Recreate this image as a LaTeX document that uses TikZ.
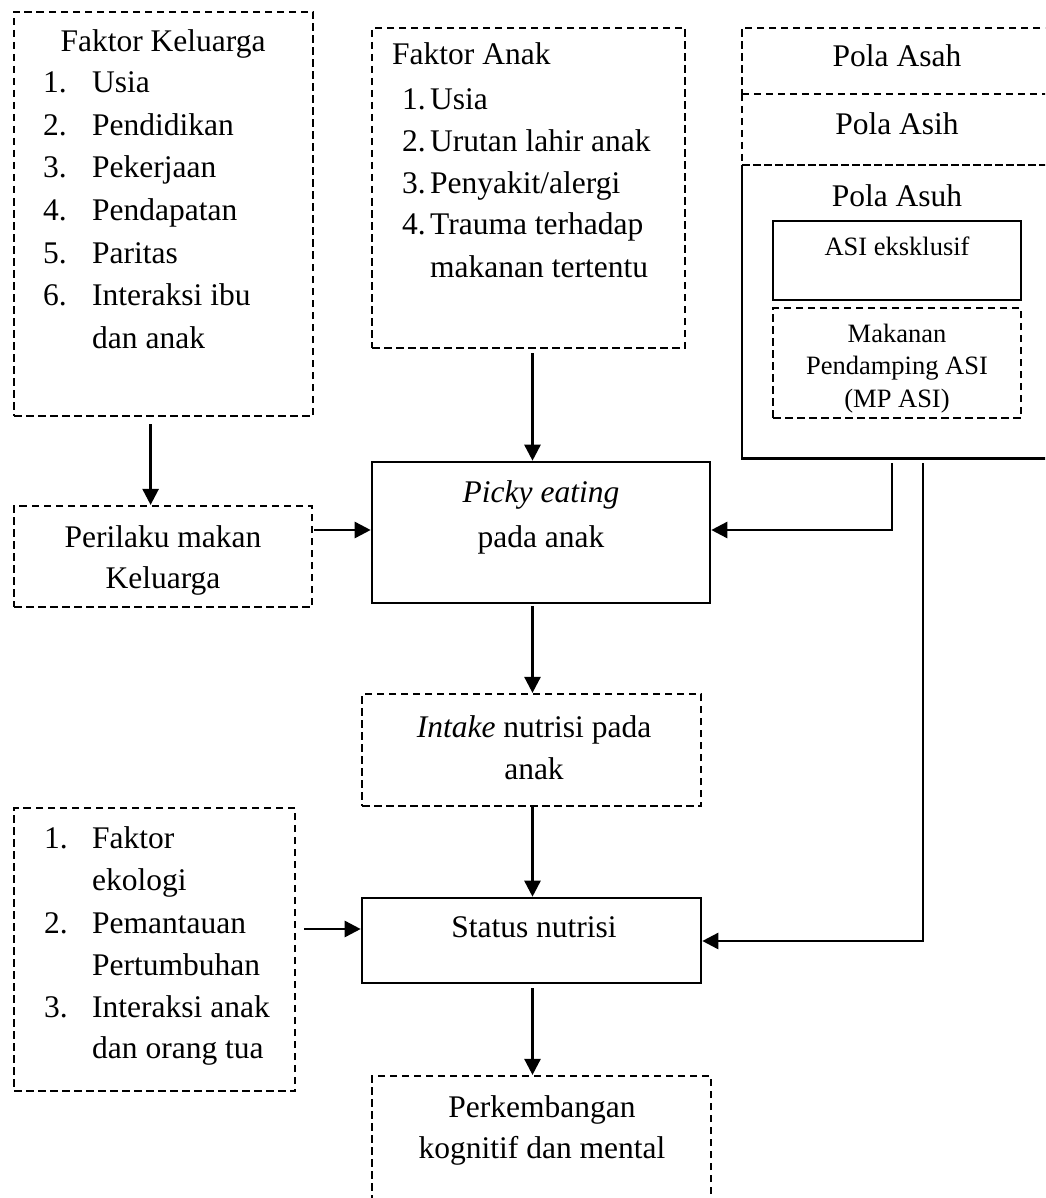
\documentclass[tikz,border=0pt]{standalone}
\usepackage{fontspec}
\setmainfont{Liberation Serif}
\usetikzlibrary{arrows.meta,calc}
\newcommand\mkbox[6]{\node[#1, minimum width={(#5-#3)*1pt}, minimum height={(#6-#4)*1pt}] (#2) at ({(#3+#5)/2},{(#4+#6)/2}) {};}
\begin{document}
\begin{tikzpicture}[x=1pt,y=-1pt,
  sbox/.style={draw, rectangle, inner sep=0pt, line width=2.6pt},
  dbox/.style={draw, rectangle, inner sep=0pt, line width=2.2pt, dash pattern=on 7.5pt off 4.5pt},
  nbox/.style={rectangle, inner sep=0pt},
  sline/.style={line width=2.6pt},
  dline/.style={line width=2.2pt, dash pattern=on 7.5pt off 4.5pt},
  tx/.style={anchor=base, inner sep=0pt, font=\fontsize{31.5}{38}\selectfont},
  txl/.style={anchor=base west, inner sep=0pt, font=\fontsize{31.5}{38}\selectfont},
  txs/.style={anchor=base, inner sep=0pt, font=\fontsize{26.5}{32}\selectfont},
  arr/.style={line width=2.6pt, -{Triangle[length=16pt,width=16pt]}}]
\useasboundingbox (0,0) rectangle (1045,1198);
\clip (0,0) rectangle (1045,1198);

% boxes
\mkbox{dbox}{fk}{14}{12}{313}{416}
\mkbox{dbox}{fa}{372}{28}{685}{348}
\mkbox{nbox}{asah}{742}{28}{1052}{94}
\mkbox{nbox}{asih}{742}{94}{1052}{165}
\mkbox{nbox}{asuh}{742}{165}{1052}{458}
\mkbox{sbox}{asi}{773}{221}{1021}{300}
\mkbox{dbox}{mpasi}{773}{308}{1021}{418}
\mkbox{dbox}{pm}{14}{506}{312}{607}
\mkbox{sbox}{picky}{372}{462}{710}{603}
\mkbox{dbox}{intake}{362}{694}{701}{806}
\mkbox{sbox}{status}{362}{898}{701}{983}
\mkbox{dbox}{lb}{14}{808}{295}{1091}
\mkbox{dbox}{dev}{372}{1076}{711}{1215}

% Pola boxes (open to the right edge)
\draw[sline] (asuh.north west) -- (asuh.south west) -- (asuh.south east);
\draw[dline] (asah.north east) -- (asah.north west) -- (asah.south west);
\draw[dline] (asih.north west) -- (asih.south west);
\draw[dline] (asih.north west) -- (asih.north east);
\draw[dline, line width=2.6pt, dash pattern=on 8pt off 3pt] (asih.south west) -- (asih.south east);

% Faktor Keluarga
\node[tx] (fkt) at (163,52) {Faktor Keluarga};
\node[txl] (fkn1) at (43,93) {1.};
\node[txl] (fkn2) at (43,135.5) {2.};
\node[txl] (fkn3) at (43,178) {3.};
\node[txl] (fkn4) at (43,220.5) {4.};
\node[txl] (fkn5) at (43,263) {5.};
\node[txl] (fkn6) at (43,305.5) {6.};
\node[txl] (fki1) at (92,93) {Usia};
\node[txl] (fki2) at (92,135.5) {Pendidikan};
\node[txl] (fki3) at (92,178) {Pekerjaan};
\node[txl] (fki4) at (92,220.5) {Pendapatan};
\node[txl] (fki5) at (92,263) {Paritas};
\node[txl] (fki6) at (92,305.5) {Interaksi ibu};
\node[txl] (fki7) at (92,348) {dan anak};

% Faktor Anak
\node[txl] (fat) at (392,65) {Faktor Anak};
\node[txl] (fan1) at (402,110) {1.};
\node[txl] (fan2) at (402,152) {2.};
\node[txl] (fan3) at (402,193.5) {3.};
\node[txl] (fan4) at (402,235) {4.};
\node[txl] (fai1) at (430,110) {Usia};
\node[txl] (fai2) at (430,152) {Urutan lahir anak};
\node[txl] (fai3) at (430,193.5) {Penyakit/alergi};
\node[txl] (fai4) at (430,235) {Trauma terhadap};
\node[txl] (fai5) at (430,277) {makanan tertentu};

% Pola
\node[tx] (asaht) at (897,67) {Pola Asah};
\node[tx] (asiht) at (897,135) {Pola Asih};
\node[tx] (asuht) at (897,207) {Pola Asuh};
\node[txs] (asit) at (897,255) {ASI eksklusif};
\node[txs] (mp1) at (897,342) {Makanan};
\node[txs] (mp2) at (897,374.5) {Pendamping ASI};
\node[txs] (mp3) at (897,407) {(MP ASI)};

% Perilaku makan
\node[tx] (pm1) at (163,547) {Perilaku makan};
\node[tx] (pm2) at (163,588) {Keluarga};

% Picky
\node[tx] (pk1) at (541,502) {\textit{Picky eating}};
\node[tx] (pk2) at (541,547) {pada anak};

% Intake
\node[tx] (in1) at (534,737) {\textit{Intake} nutrisi pada};
\node[tx] (in2) at (534,779) {anak};

% Status
\node[tx] (st1) at (534,937) {Status nutrisi};

% left bottom list
\node[txl] (lbn1) at (44,848) {1.};
\node[txl] (lbn2) at (44,933) {2.};
\node[txl] (lbn3) at (44,1017) {3.};
\node[txl] (lbi1) at (92,848) {Faktor};
\node[txl] (lbi2) at (92,890) {ekologi};
\node[txl] (lbi3) at (92,933) {Pemantauan};
\node[txl] (lbi4) at (92,975) {Pertumbuhan};
\node[txl] (lbi5) at (92,1017) {Interaksi anak};
\node[txl] (lbi6) at (92,1058) {dan orang tua};

% development
\node[tx] (dv1) at (542,1117) {Perkembangan};
\node[tx] (dv2) at (542,1158) {kognitif dan mental};

% helper coordinates
\coordinate (xa) at (150.6,0);
\coordinate (xb) at (532.5,0);
\coordinate (xc) at (892,0);
\coordinate (xd) at (923,0);
\coordinate (ya) at (0,530);
\coordinate (yb) at (0,929);
\coordinate (yc) at (0,941);

% connectors
\draw[arr, shorten <=7pt] (fk.south -| xa) -- (pm.north -| xa);
\draw[arr, shorten <=4pt] (fa.south -| xb) -- (picky.north -| xb);
\draw[arr, shorten <=1pt] (pm.east |- ya) -- (picky.west |- ya);
\draw[arr, shorten <=5pt] (asuh.south -| xc) |- (picky.east |- ya);
\draw[arr, shorten <=2pt] (picky.south -| xb) -- (intake.north -| xb);
\draw[arr, shorten <=5pt] (asuh.south -| xd) |- (status.east |- yc);
\draw[arr] (intake.south -| xb) -- (status.north -| xb);
\draw[arr, shorten <=8pt] (lb.east |- yb) -- (status.west |- yb);
\draw[arr, shorten <=4pt] (status.south -| xb) -- (dev.north -| xb);
\end{tikzpicture}
\end{document}
